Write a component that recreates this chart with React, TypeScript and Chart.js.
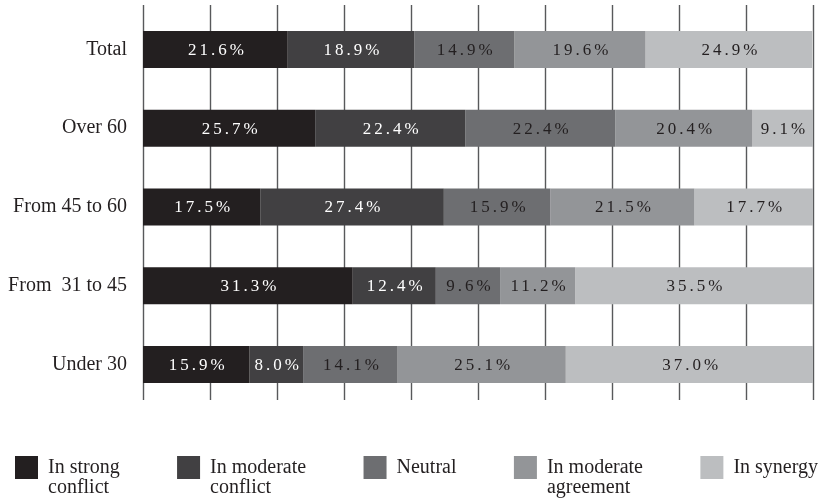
import { useEffect, useRef } from "react";
import { Chart, registerables } from "chart.js";

Chart.register(...registerables);

// Age groups shown as rows
const categories = ["Total", "Over 60", "From 45 to 60", "From  31 to 45", "Under 30"];

// Share of respondents (%) per attitude, one value per age group
const strongConflict = [21.6, 25.7, 17.5, 31.3, 15.9];
const moderateConflict = [18.9, 22.4, 27.4, 12.4, 8.0];
const neutral = [14.9, 22.4, 15.9, 9.6, 14.1];
const moderateAgreement = [19.6, 20.4, 21.5, 11.2, 25.1];
const synergy = [24.9, 9.1, 17.7, 35.5, 37.0];

const seriesNames = [
  "In strong conflict",
  "In moderate conflict",
  "Neutral",
  "In moderate agreement",
  "In synergy",
];
const legendLines = [
  ["In strong", "conflict"],
  ["In moderate", "conflict"],
  ["Neutral"],
  ["In moderate", "agreement"],
  ["In synergy"],
];
const seriesColors = ["#231f20", "#414042", "#6d6e71", "#939598", "#bcbec0"];
const labelColors = ["#ffffff", "#ffffff", "#231f20", "#231f20", "#231f20"];

const FONT = "'Liberation Serif', 'DejaVu Serif', serif";

// Vertical grid lines, slightly offset from the plot area like the printed figure
const gridPlugin = {
  id: "verticalGrid",
  beforeDatasetsDraw(chart: any) {
    const { ctx, chartArea, scales } = chart;
    const x = scales.x;
    ctx.save();
    ctx.strokeStyle = "#58595b";
    ctx.lineWidth = 1.4;
    x.ticks.forEach((t: any) => {
      const px = Math.round(x.getPixelForValue(t.value)) + 0.5;
      ctx.beginPath();
      ctx.moveTo(px, chartArea.top - 5);
      ctx.lineTo(px, chartArea.bottom - 4);
      ctx.stroke();
    });
    ctx.restore();
  },
};

// Percentage label centred on every segment
const valueLabelPlugin = {
  id: "valueLabels",
  afterDatasetsDraw(chart: any) {
    const { ctx } = chart;
    ctx.save();
    ctx.font = `17px ${FONT}`;
    (ctx as any).letterSpacing = "3px";
    ctx.textAlign = "center";
    ctx.textBaseline = "middle";
    chart.data.datasets.forEach((ds: any, i: number) => {
      const meta = chart.getDatasetMeta(i);
      ctx.fillStyle = labelColors[i];
      meta.data.forEach((el: any, j: number) => {
        const { x, base, y } = el.getProps(["x", "base", "y"], true);
        const v = ds.data[j] as number;
        ctx.fillText(`${v.toFixed(1)}%`, (x + base) / 2 + 2, y + 1);
      });
    });
    ctx.restore();
  },
};

// Legend row under the plot, with wrapped two-line labels
const legendPlugin = {
  id: "wrappedLegend",
  afterDraw(chart: any) {
    const { ctx, width } = chart;
    const box = 23;
    const gap = 10;
    const left = 15;
    const right = width - 3;
    const boxTop = 456;
    const lineH = 20;
    ctx.save();
    ctx.font = `20px ${FONT}`;
    const widths = legendLines.map((lines) =>
      Math.max(...lines.map((l) => ctx.measureText(l).width))
    );
    const used = widths.reduce((a, w) => a + box + gap + w, 0);
    const spacing = (right - left - used) / (legendLines.length - 1);
    let x = left;
    chart.data.datasets.forEach((ds: any, i: number) => {
      ctx.fillStyle = ds.backgroundColor;
      ctx.fillRect(x, boxTop, box, box);
      ctx.fillStyle = "#231f20";
      ctx.textAlign = "left";
      ctx.textBaseline = "alphabetic";
      legendLines[i].forEach((line, k) => {
        ctx.fillText(line, x + box + gap, boxTop + 17 + k * lineH);
      });
      x += box + gap + widths[i] + spacing;
    });
    ctx.restore();
  },
};

export default function App() {
  const canvasRef = useRef<HTMLCanvasElement | null>(null);

  useEffect(() => {
    document.body.style.margin = "0";
    const canvas = canvasRef.current;
    if (!canvas) return;
    const values = [strongConflict, moderateConflict, neutral, moderateAgreement, synergy];
    const chart = new Chart(canvas, {
      type: "bar",
      data: {
        labels: categories,
        datasets: values.map((data, i) => ({
          label: seriesNames[i],
          data,
          backgroundColor: seriesColors[i],
          borderWidth: 0,
          barPercentage: 0.47,
          categoryPercentage: 1,
        })),
      },
      options: {
        indexAxis: "y",
        animation: false,
        responsive: false,
        devicePixelRatio: 1,
        layout: { padding: { left: 0, right: 8, top: 10, bottom: 99 } },
        plugins: {
          legend: { display: false },
          tooltip: { enabled: false },
          title: { display: false },
        },
        scales: {
          x: {
            stacked: true,
            min: 0,
            max: 100,
            ticks: { stepSize: 10, display: false },
            grid: { display: false },
            border: { display: false },
            afterFit: (scale: any) => {
              scale.height = 0;
              scale.paddingLeft = 0;
              scale.paddingRight = 0;
            },
          },
          y: {
            stacked: true,
            grid: { display: false },
            border: { display: false },
            ticks: {
              padding: 8,
              color: "#231f20",
              font: { family: FONT, size: 20 },
            },
            afterFit: (scale: any) => {
              scale.width = 143;
              scale.paddingTop = 0;
              scale.paddingBottom = 0;
            },
          },
        },
      },
      plugins: [gridPlugin, valueLabelPlugin, legendPlugin],
    });
    return () => chart.destroy();
  }, []);

  return (
    <div style={{ width: 821, height: 503 }}>
      <canvas ref={canvasRef} width={821} height={503} />
    </div>
  );
}
